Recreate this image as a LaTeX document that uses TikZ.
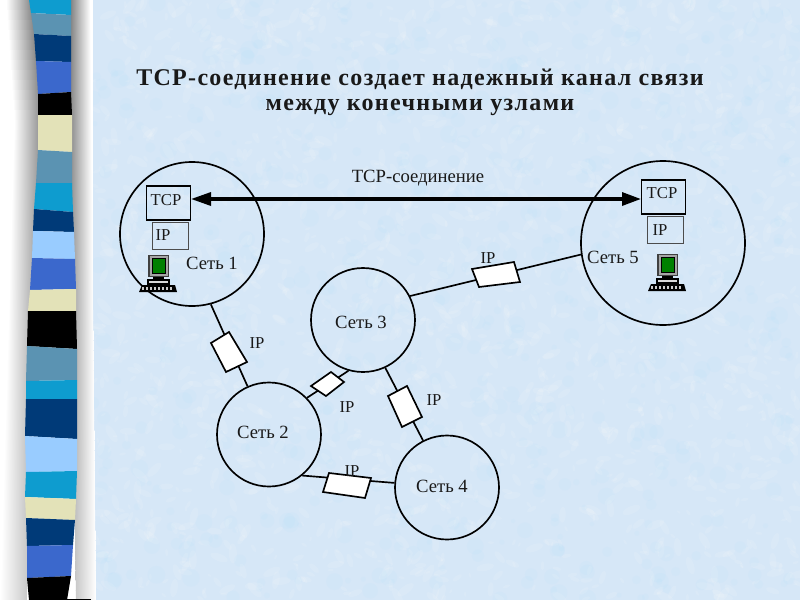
\documentclass[tikz,border=0pt]{standalone}
\usepackage{fontspec}
\setmainfont{Liberation Serif}
\newfontfamily\titlefont[LetterSpace=5.5]{Liberation Serif}
\definecolor{bgblue}{HTML}{D6E7F7}
\definecolor{sCyan}{HTML}{0E9CCF}
\definecolor{sTeal}{HTML}{5B93B2}
\definecolor{sNavy}{HTML}{003A78}
\definecolor{sBlue}{HTML}{3B68CC}
\definecolor{sBeige}{HTML}{E3E2B8}
\definecolor{sLight}{HTML}{99CCFF}
\definecolor{scrGreen}{HTML}{008000}
\newcommand{\computer}[2]{%
  \begin{scope}[shift={(#1,#2)}]
    \fill[black!75] (0,0) rectangle (21,22);
    \fill[black!35] (1.5,1) rectangle (19.5,21);
    \fill[scrGreen,draw=black] (4,3.5) rectangle (17,18);
    \fill[black] (5,22) rectangle (16,24);
    \fill[black] (-1,24) rectangle (22,30);
    \fill[white!85!black] (1,26) rectangle (20,28);
    \fill[black] (-6,30) -- (27,30) -- (29,37) -- (-9,37) -- cycle;
    \foreach \k in {-6,-2,...,24}{\fill[white!80!black] (\k,32) rectangle +(2,3);}
  \end{scope}}
\tikzset{
  net/.style={circle,draw=black,line width=1.25pt,inner sep=0pt,minimum size=#1*0.75pt},
  link/.style={draw=black,line width=1.25pt},
  ipbox/.style={draw=black,fill=white,line width=1.25pt,line join=miter},
  tcpbox/.style={rectangle,draw=black,line width=1.4pt,inner sep=0pt,minimum width=44*0.75pt,minimum height=34*0.75pt},
  lowbox/.style={rectangle,draw=black!70,line width=0.7pt,inner sep=0pt,minimum width=36*0.75pt,minimum height=27*0.75pt},
  lbl/.style={inner sep=0pt,font=\fontsize{14}{16}\selectfont,text=black!90},
  tag/.style={inner sep=0pt,font=\fontsize{12.5}{14}\selectfont,text=black!90},
  ttl/.style={inner sep=0pt,font=\titlefont\bfseries\fontsize{18}{18}\selectfont,text=black!90}
}
\begin{document}
\begin{tikzpicture}[x=0.75pt,y=-0.75pt]
\useasboundingbox (0,0) rectangle (800,600);
% background
\fill[bgblue] (0,0) rectangle (800,600);
\pgfmathsetseed{4242}
\begin{scope}
\clip (93,0) rectangle (800,600);
\foreach \i in {1,...,1800}{
  \pgfmathsetmacro{\xa}{93+rnd*707}
  \pgfmathsetmacro{\ya}{rnd*600}
  \pgfmathsetmacro{\ra}{2+rnd*8}
  \pgfmathsetmacro{\ang}{rnd*180}
  \fill[white,opacity=0.12,rotate around={\ang:(\xa,\ya)}] (\xa,\ya) ellipse ({\ra} and {\ra*0.4});
}
\foreach \i in {1,...,700}{
  \pgfmathsetmacro{\xa}{93+rnd*707}
  \pgfmathsetmacro{\ya}{rnd*600}
  \pgfmathsetmacro{\ra}{2+rnd*7}
  \fill[blue!30!cyan!40!white,opacity=0.06] (\xa,\ya) circle (\ra);
}
\end{scope}
% left band
\fill[white] (0,0) rectangle (93,600);
\foreach \yy in {0,10,...,590}{
  \pgfmathsetmacro{\gv}{50-\yy*0.05}
  \pgfmathsetmacro{\lx}{\yy<120 ? 30+\yy*0.07 : (38-(\yy-120)*0.03)}
  \pgfmathsetmacro{\rx}{70+\yy*0.01}
  \shade[left color=white,right color=black!\gv] (\lx-24,\yy) rectangle (\lx+3,\yy+10.5);
  \shade[left color=black!\gv,right color=white] (\rx,\yy) rectangle (\rx+20,\yy+10.5);
}
% stripes
\fill[sCyan]  (29,0) -- (71,0) -- (71,15) -- (31,13) -- cycle;
\fill[sTeal]  (31,13) -- (71,15) -- (71,36) -- (34,34) -- cycle;
\fill[sNavy]  (34,34) -- (71,36) -- (71,62) -- (36,61) -- cycle;
\fill[sBlue]  (36,61) -- (71,62) -- (71,92) -- (38,94) -- cycle;
\fill[black]  (38,94) -- (71,92) -- (72,115) -- (38,115) -- cycle;
\fill[sBeige] (38,115) -- (72,115) -- (72,152) -- (38,150) -- cycle;
\fill[sTeal]  (38,150) -- (72,152) -- (72,183) -- (36,183) -- cycle;
\fill[sCyan]  (36,183) -- (72,183) -- (73,212) -- (34,209) -- cycle;
\fill[sNavy]  (34,209) -- (73,212) -- (74,232) -- (33,231) -- cycle;
\fill[sLight] (33,231) -- (74,232) -- (75,259) -- (32,258) -- cycle;
\fill[sBlue]  (32,258) -- (75,259) -- (76,289) -- (30,290) -- cycle;
\fill[sBeige] (30,290) -- (76,289) -- (76,311) -- (28,311) -- cycle;
\fill[black]  (28,311) -- (76,311) -- (77,349) -- (27,346) -- cycle;
\fill[sTeal]  (27,346) -- (77,349) -- (77,380) -- (26,381) -- cycle;
\fill[sCyan]  (26,381) -- (77,380) -- (77,399) -- (26,399) -- cycle;
\fill[sNavy]  (26,399) -- (77,399) -- (77,439) -- (25,436) -- cycle;
\fill[sLight] (25,436) -- (77,439) -- (77,471) -- (26,472) -- cycle;
\fill[sCyan]  (26,472) -- (77,471) -- (76,499) -- (25,497) -- cycle;
\fill[sBeige] (25,497) -- (76,499) -- (75,520) -- (26,518) -- cycle;
\fill[sNavy]  (26,518) -- (75,520) -- (73,545) -- (27,546) -- cycle;
\fill[sBlue]  (27,546) -- (73,545) -- (71,576) -- (27,578) -- cycle;
\fill[black]  (27,578) -- (71,576) -- (67,600) -- (29,600) -- cycle;
\fill[black]  (67,599) rectangle (91,600);
% networks
\node[net=144] (n1) at (192,234) {};
\node[net=164] (n5) at (663,243) {};
\node[net=104] (n3) at (363,320) {};
\node[net=104] (n2) at (269,434.5) {};
\node[net=104] (n4) at (447,487.5) {};
% connectors
\draw[link] (n1.-75.6) -- (n2.114.3);
\draw[link] (n2.44) -- (n3.-106.7);
\draw[link] (n3.-65.8) -- (n4.117.3);
\draw[link] (n2.-51.5) -- (n4.175);
\draw[link] (n3.27) -- (n5.188);
% IP boxes on the links
\draw[ipbox] (211,343) -- (229,332) -- (247,362) -- (226,372) -- cycle;
\draw[ipbox] (311,386) -- (331,372) -- (344,382) -- (326,396) -- cycle;
\draw[ipbox] (388,396) -- (407,386) -- (422,417) -- (402,427) -- cycle;
\draw[ipbox] (329,473) -- (371,478) -- (365,498) -- (323,492) -- cycle;
\draw[ipbox] (472,269) -- (514,262) -- (520,282) -- (479,287) -- cycle;
% host stacks
\node[tcpbox] (tl) at (168.5,203) {};
\node[lowbox] (il) at (170,235.5) {};
\node[tcpbox] (tr) at (663.5,197) {};
\node[lowbox] (ir) at (665.5,229.5) {};
\node[tag] (tlt) at (166,200) {TCP};
\node[tag] (ilt) at (163,235) {IP};
\node[tag] (trt) at (662,193) {TCP};
\node[tag] (irt) at (660,230) {IP};
\computer{148}{255}
\computer{657}{254}
% TCP connection arrow
\coordinate (al) at (tl.east |- 0,199);
\coordinate (ar) at (tr.west |- 0,199);
\draw[line width=2.5pt] (208,199) -- (624,199);
\fill (al) -- (211,192) -- (211,206) -- cycle;
\fill (ar) -- (622,192) -- (622,206) -- cycle;
% labels
\node[ttl] (t1) at (420,79) {TCP-соединение создает надежный канал связи};
\node[ttl] (t2) at (420,107) {между конечными узлами};
\node[lbl] (lc) at (418,178) {TCP-соединение};
\node[lbl] (l1) at (212,263) {Сеть 1};
\node[lbl] (l5) at (613,257) {Сеть 5};
\node[lbl] (l3) at (361,322) {Сеть 3};
\node[lbl] (l2) at (263,432) {Сеть 2};
\node[lbl] (l4) at (442,486) {Сеть 4};
\node[tag] (p1) at (257,343) {IP};
\node[tag] (p2) at (347,407) {IP};
\node[tag] (p3) at (434,400) {IP};
\node[tag] (p4) at (352,471) {IP};
\node[tag] (p5) at (488,258) {IP};
\end{tikzpicture}
\end{document}
